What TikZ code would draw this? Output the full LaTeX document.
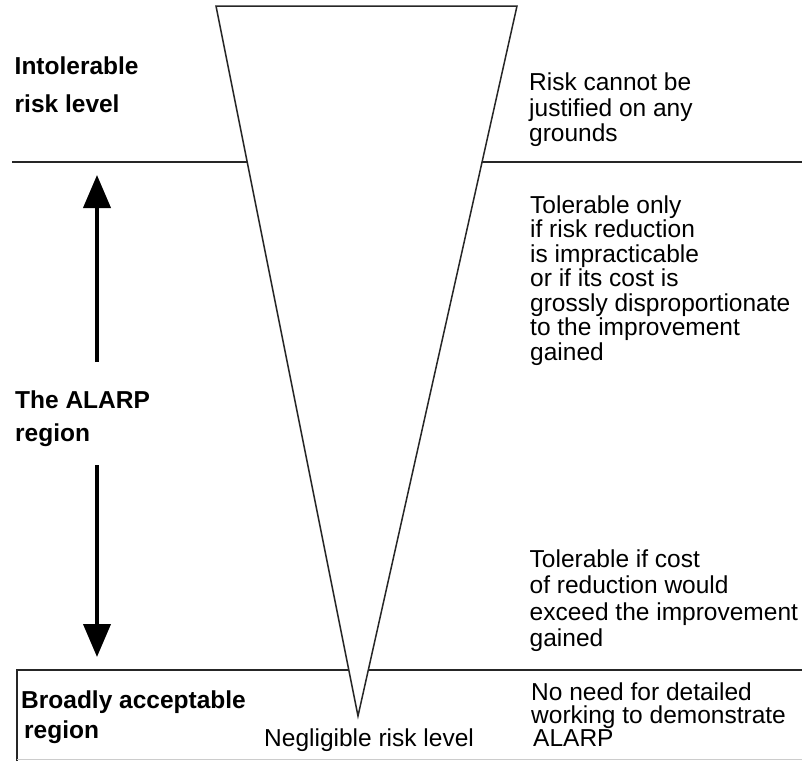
\documentclass[tikz,border=0pt]{standalone}
\usepackage{fontspec}
\setmainfont{Liberation Sans}
\usetikzlibrary{arrows.meta}
\begin{document}
\begin{tikzpicture}[x=1pt,y=-1pt,
  rule/.style={line width=1.5pt, draw=black!85},
  faint/.style={line width=1pt, draw=black!20},
  % multi-line labels are placed by the baseline of their last line
  txt/.style={inner sep=0pt, anchor=base west, align=left},
  heading/.style={txt, font=\bfseries\fontsize{24.5}{#1}\selectfont},
  note/.style={txt, font=\fontsize{24.5}{#1}\selectfont},
  bigarrow/.style={line width=4pt, -{Triangle[width=27pt,length=33pt]}}
]
\useasboundingbox (0,0) rectangle (802,761);

% corners of the risk funnel
\coordinate (funnelTL) at (216,6);
\coordinate (funnelTR) at (517,6);
\coordinate (apex) at (358,716);

% boundary between intolerable and ALARP regions
\coordinate (upperL) at (12,162);
\coordinate (upperR) at (802,162);
\draw[rule] (upperL) -- (upperR);

% box of the broadly acceptable region
\coordinate (boxBL) at (17,761);
\coordinate (boxTL) at (17,670);
\coordinate (boxTR) at (802,670);
\draw[rule] (boxBL) -- (boxTL) -- (boxTR);
\coordinate (baseL) at (17,759);
\coordinate (baseR) at (802,759);
\draw[faint] (baseL) -- (baseR);

% the funnel, covering the region lines
\draw[rule, fill=white, line join=miter] (funnelTL) -- (funnelTR) -- (apex) -- cycle;

% left-hand region labels
\node[heading=38.7] (intol) at (14.5,112.7) {Intolerable\\risk level};
\node[heading=33.7] (alarp) at (15,441.7) {The ALARP\\region};
\node[heading=30] (broad) at (21,738.3) {Broadly acceptable\\\hspace{3pt}region};

% extent of the ALARP region
\coordinate (upTail) at (97,362);
\coordinate (upTip) at (97,175);
\coordinate (downTail) at (97,465);
\coordinate (downTip) at (97,657);
\draw[bigarrow] (upTail) -- (upTip);
\draw[bigarrow] (downTail) -- (downTip);

% right-hand explanations
\node[note=25.5] (n1) at (529,141.7) {Risk cannot be\\justified on any\\grounds};
\node[note=24.5] (n2) at (530,360.3) {Tolerable only\\if risk reduction\\is impracticable\\or if its cost is\\grossly disproportionate\\to the improvement\\gained};
\node[note=26.4] (n3) at (529.5,646.5) {Tolerable if cost\\of reduction would\\exceed the improvement\\gained};
\node[note=23.3] (n4) at (531,746.6) {No need for detailed\\working to demonstrate\\\hspace{2pt}ALARP};

% label under the apex
\node[note=25] (neg) at (264,746.7) {Negligible risk level};
\end{tikzpicture}
\end{document}
